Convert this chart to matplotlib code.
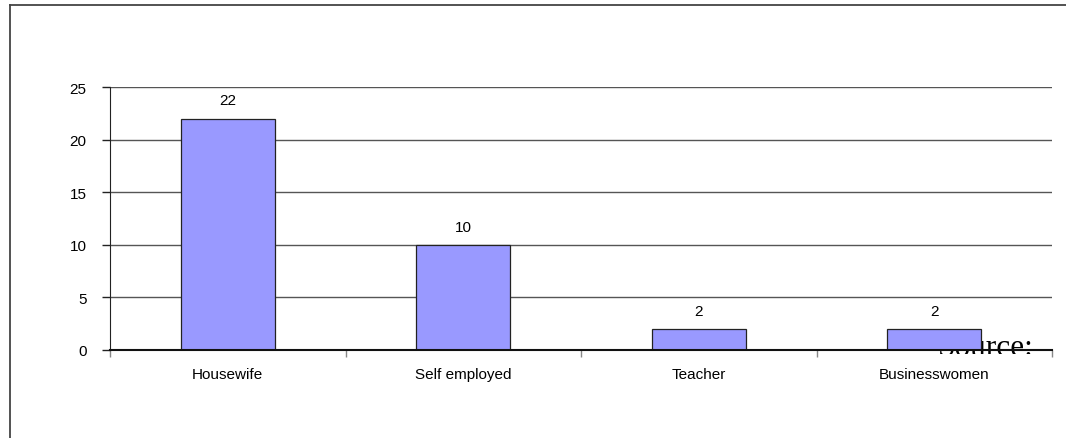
import matplotlib
matplotlib.use("Agg")
import matplotlib.pyplot as plt
from matplotlib.lines import Line2D
from matplotlib.patches import Rectangle

categories = ["Housewife", "Self employed", "Teacher", "Businesswomen"]
values = [22, 10, 2, 2]
yticks = [0, 5, 10, 15, 20, 25]

plt.rcParams['font.family'] = ['Liberation Sans', 'DejaVu Sans']

W, H = 1066, 439
fig = plt.figure(figsize=(W / 100, H / 100), dpi=100)
fig.patch.set_facecolor("white")

left, right, top, bottom = 110, 1052, 88, 351
ax = fig.add_axes([left / W, 1 - bottom / H, (right - left) / W, (bottom - top) / H])

x = list(range(len(categories)))
bars = ax.bar(x, values, width=0.4, color="#9999FF", edgecolor="#222222", linewidth=0.9, zorder=3)
for xi, v in zip(x, values):
    ax.annotate(str(v), (xi, v), xytext=(0, 8), textcoords="offset points",
                ha="center", va="bottom", fontsize=11, color="black", zorder=4)

ax.set_xlim(-0.5, len(categories) - 0.5)
ax.set_ylim(0, 25)
ax.set_yticks(yticks)
ax.set_yticklabels([str(t) for t in yticks], fontsize=11)
ax.set_xticks([i - 0.5 for i in range(len(categories) + 1)], minor=False)
ax.set_xticklabels([""] * (len(categories) + 1))
ax.set_xticks(x, minor=True)
ax.set_xticklabels(categories, minor=True, fontsize=11)
ax.tick_params(axis="x", which="minor", length=0, pad=12)
ax.tick_params(axis="x", which="major", length=5, direction="out", color="#888888", width=1)
ax.tick_params(axis="y", length=6, direction="out", color="#222222", width=1, pad=11)

for t in yticks[1:]:
    ax.axhline(t, color="#555555", linewidth=1, zorder=1)

for s in ["top", "right"]:
    ax.spines[s].set_visible(False)
ax.spines["left"].set_color("#222222")
ax.spines["bottom"].set_color("#111111")
ax.spines["bottom"].set_linewidth(1.5)
ax.spines["bottom"].set_zorder(5)

# "Source:" text, partially hidden behind the bar and clipped
src = fig.text(938 / W, 1 - 356 / H, "Source:", family=["Liberation Serif", "DejaVu Serif"],
               fontsize=22.5, ha="left", va="baseline", color="black", zorder=2)
clip = Rectangle((0, H - 355), W, 355, transform=None)
src.set_clip_path(clip)
ax.set_zorder(3)
ax.patch.set_alpha(0)

# outer frame (left and top edges)
fig.add_artist(Line2D([9.5 / W, 9.5 / W], [0, 1 - 5.5 / H], transform=fig.transFigure,
                      color="#444444", linewidth=1.3))
fig.add_artist(Line2D([9.5 / W, 1.01], [1 - 5.5 / H, 1 - 5.5 / H], transform=fig.transFigure,
                      color="#444444", linewidth=1.3))

fig.savefig("out.png", dpi=100, facecolor="white")
